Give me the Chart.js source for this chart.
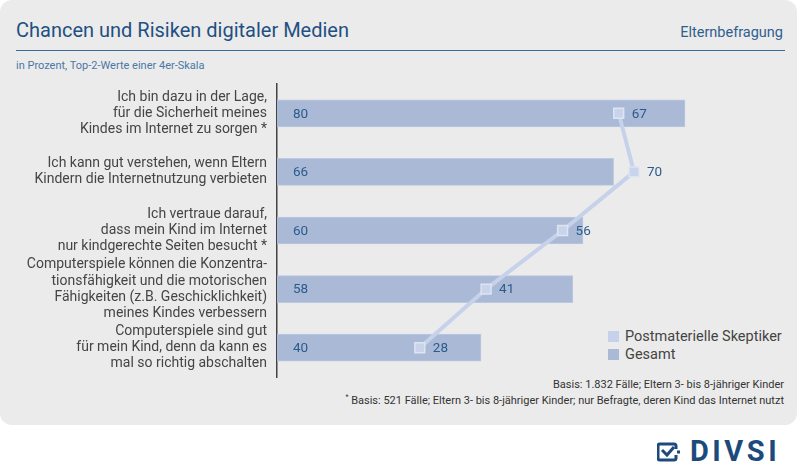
<!DOCTYPE html>
<html lang="de">
<head>
<meta charset="utf-8">
<script src="https://cdn.jsdelivr.net/npm/chart.js@4"></script>
<style>
  html, body { margin: 0; padding: 0; background: #fff; }
  body { width: 800px; height: 476px; position: relative; overflow: hidden; font-family: Roboto, "Noto Sans", sans-serif; }
  .panel { position: absolute; left: 0; top: 0; width: 797px; height: 425px; background: #ebebeb; border-radius: 12px; }
  .title { position: absolute; left: 16px; top: 18px; font-size: 20px; color: #1f5082; }
  .tag { position: absolute; right: 17px; top: 24px; font-size: 14.5px; color: #2f5f8f; }
  .rule { position: absolute; left: 16px; top: 50px; width: 769px; height: 0; border-top: 1.5px solid #3b6a97; }
  .sub { position: absolute; left: 16px; top: 59px; font-size: 11px; color: #4a78a5; }
  .legend { position: absolute; left: 608px; top: 328px; font-size: 14.5px; color: #444; }
  .legend div { height: 18px; line-height: 18px; }
  .legend span { display: inline-block; width: 11px; height: 11px; margin-right: 6px; vertical-align: -1px; }
  .foot { position: absolute; right: 16px; font-size: 11px; color: #333; text-align: right; white-space: nowrap; }
  .logo { position: absolute; left: 657px; top: 436px; color: #1d4a7c; font-weight: 700; font-size: 29px; letter-spacing: 3.5px; line-height: 30px; }
  .logo svg { vertical-align: -1px; margin-right: 9px; }
  canvas { position: absolute; left: 0; top: 0; }
</style>
</head>
<body>
<div class="panel"></div>
<div class="title">Chancen und Risiken digitaler Medien</div>
<div class="tag">Elternbefragung</div>
<div class="rule"></div>
<div class="sub">in Prozent, Top-2-Werte einer 4er-Skala</div>
<div class="legend">
  <div><span style="background:#c6d1ea"></span>Postmaterielle Skeptiker</div>
  <div><span style="background:#aab9d6"></span>Gesamt</div>
</div>
<div class="foot" style="top:378px">Basis: 1.832 Fälle; Eltern 3- bis 8-jähriger Kinder</div>
<div class="foot" style="top:393px"><sup style="font-size:7px">*</sup> Basis: 521 Fälle; Eltern 3- bis 8-jähriger Kinder; nur Befragte, deren Kind das Internet nutzt</div>
<div class="logo"><svg width="24" height="20" viewBox="0 0 24 20"><path d="M3 2h14a2 2 0 0 1 2 2v3M19 13v3a2 2 0 0 1-2 2H3a2 2 0 0 1-2-2V4a2 2 0 0 1 2-2" fill="none" stroke="#1d4a7c" stroke-width="3"/><path d="M5 8l5 5 7-8" fill="none" stroke="#1d4a7c" stroke-width="3"/><rect x="20" y="8.5" width="3" height="3" fill="#1d4a7c"/></svg>DIVSI</div>
<canvas id="chart" width="800" height="476"></canvas>
<script>
// =========================
// DATA
// =========================
const categories = [
  ["Ich bin dazu in der Lage,", "für die Sicherheit meines", "Kindes im Internet zu sorgen *"],
  ["Ich kann gut verstehen, wenn Eltern", "Kindern die Internetnutzung verbieten"],
  ["Ich vertraue darauf,", "dass mein Kind im Internet", "nur kindgerechte Seiten besucht *"],
  ["Computerspiele können die Konzentra-", "tionsfähigkeit und die motorischen", "Fähigkeiten (z.B. Geschicklichkeit)", "meines Kindes verbessern"],
  ["Computerspiele sind gut", "für mein Kind, denn da kann es", "mal so richtig abschalten"]
];
const gesamt = [80, 66, 60, 58, 40];
const skeptiker = [67, 70, 56, 41, 28];

// =========================
// VALUE LABELS
// =========================
const valueLabels = {
  id: "valueLabels",
  afterDatasetsDraw(chart) {
    const ctx = chart.ctx;
    ctx.save();
    ctx.font = "13.5px Roboto";
    ctx.fillStyle = "#2b5b8c";
    ctx.textBaseline = "middle";
    ctx.textAlign = "left";
    chart.data.datasets.forEach((ds, i) => {
      const meta = chart.getDatasetMeta(i);
      meta.data.forEach((el, j) => {
        const x = ds.type === "bar" ? el.base + 16 : el.x + 13;
        ctx.fillText(ds.data[j], x, el.y + 1);
      });
    });
    ctx.restore();
  }
};

new Chart(document.getElementById("chart"), {
  data: {
    labels: categories,
    datasets: [
      {
        type: "line",
        label: "Postmaterielle Skeptiker",
        data: skeptiker,
        order: 0,
        borderColor: "#c6d1ea",
        borderWidth: 4,
        pointStyle: "rect",
        pointRadius: 7,
        pointBackgroundColor: "#c9d4eb",
        pointBorderColor: "#dde4f2",
        pointBorderWidth: 1.5,
        tension: 0
      },
      {
        type: "bar",
        label: "Gesamt",
        data: gesamt,
        order: 1,
        backgroundColor: "#aab9d6",
        borderColor: "#bcc8df",
        borderWidth: 1,
        barThickness: 27
      }
    ]
  },
  options: {
    indexAxis: "y",
    responsive: false,
    animation: false,
    layout: { padding: { top: 84, bottom: 99, right: 13, left: 0 } },
    scales: {
      x: { display: false, min: 0, max: 100 },
      y: {
        afterFit(scale) { scale.width = 277; },
        grid: { display: false, drawTicks: false },
        border: { display: true, color: "#444", width: 1.5 },
        ticks: {
          autoSkip: false,
          padding: 10,
          color: "#454545",
          font: { family: "Roboto", size: 14, lineHeight: 1.15 }
        }
      }
    },
    plugins: {
      legend: { display: false },
      tooltip: { enabled: false }
    }
  },
  plugins: [valueLabels]
});
</script>
</body>
</html>
